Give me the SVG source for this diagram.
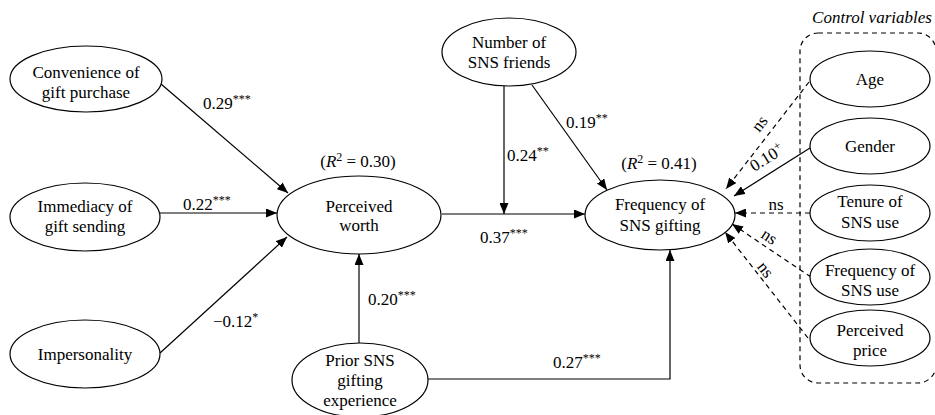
<svg xmlns="http://www.w3.org/2000/svg" width="935" height="415" viewBox="0 0 935 415" font-family="'Liberation Serif', 'DejaVu Serif', 'Times New Roman', serif">
  <style>
    text { font-family: "Liberation Serif", "DejaVu Serif", "Times New Roman", serif; font-size: 17px; fill: #000; }
    .node ellipse { fill: #fff; stroke: #000; stroke-width: 1.2; }
    .node text { text-anchor: middle; }
    .edge { fill: none; stroke: #000; stroke-width: 1.2; marker-end: url(#arrow); }
    .dash { stroke-dasharray: 5 4; }
    .sup { font-size: 12px; }
    .lbl { text-anchor: start; }
  </style>
  <defs>
    <marker id="arrow" markerUnits="userSpaceOnUse" markerWidth="11" markerHeight="9" refX="11" refY="4.5" orient="auto">
      <path d="M0,0 L11,4.5 L0,9 Z" fill="#000"/>
    </marker>
  </defs>

  <rect width="935" height="415" fill="#fff"/>

  <!-- control variable frame -->
  <rect x="800" y="33" width="136" height="350" rx="18" ry="18" fill="none" stroke="#000" stroke-width="1.2" stroke-dasharray="5 4"/>
  <text x="872" y="23" text-anchor="middle" font-style="italic">Control variables</text>

  <!-- connectors -->
  <g id="connectors">
    <line class="edge" x1="161" y1="84" x2="288" y2="193"/>
    <line class="edge" x1="160" y1="213" x2="277" y2="213"/>
    <line class="edge" x1="160" y1="353" x2="287" y2="237"/>
    <line class="edge" x1="442" y1="214" x2="585" y2="214"/>
    <line class="edge" x1="504" y1="86" x2="504" y2="214"/>
    <line class="edge" x1="532" y1="85" x2="607" y2="190"/>
    <line class="edge" x1="359" y1="343" x2="359" y2="254"/>
    <polyline class="edge" points="428,379 670,379 670,250"/>
    <line class="edge dash" x1="809" y1="82" x2="726" y2="189"/>
    <line class="edge" x1="810" y1="148" x2="734" y2="196"/>
    <line class="edge dash" x1="810" y1="213" x2="735" y2="213"/>
    <line class="edge dash" x1="811" y1="277" x2="732" y2="224"/>
    <line class="edge dash" x1="808" y1="338" x2="725" y2="232"/>

    <!-- path coefficients -->
    <text class="lbl" x="203" y="109">0.29<tspan class="sup" dy="-6">***</tspan></text>
    <text class="lbl" x="183" y="210">0.22<tspan class="sup" dy="-6">***</tspan></text>
    <text class="lbl" x="213" y="327">−0.12<tspan class="sup" dy="-6">*</tspan></text>
    <text class="lbl" x="507" y="161">0.24<tspan class="sup" dy="-6">**</tspan></text>
    <text class="lbl" x="566" y="128">0.19<tspan class="sup" dy="-6">**</tspan></text>
    <text class="lbl" x="480" y="243">0.37<tspan class="sup" dy="-6">***</tspan></text>
    <text class="lbl" x="368" y="305">0.20<tspan class="sup" dy="-6">***</tspan></text>
    <text class="lbl" x="553" y="368">0.27<tspan class="sup" dy="-6">***</tspan></text>
    <text x="760" y="129" text-anchor="middle" transform="rotate(-52 760 124)">ns</text>
    <text x="767" y="163" text-anchor="middle" transform="rotate(-32 767 158)">0.10<tspan class="sup" dy="-6">+</tspan></text>
    <text x="776" y="210" text-anchor="middle">ns</text>
    <text x="769" y="242" text-anchor="middle" transform="rotate(33 769 237)">ns</text>
    <text x="765" y="275" text-anchor="middle" transform="rotate(52 765 270)">ns</text>

    <!-- explained variance -->
    <text x="358" y="167" text-anchor="middle">(<tspan font-style="italic">R</tspan><tspan class="sup" dy="-6">2</tspan><tspan dy="6"> = 0.30)</tspan></text>
    <text x="659" y="169" text-anchor="middle">(<tspan font-style="italic">R</tspan><tspan class="sup" dy="-6">2</tspan><tspan dy="6"> = 0.41)</tspan></text>
  </g>

  <!-- constructs -->
  <g id="convenience" class="node">
    <ellipse cx="86" cy="79" rx="76" ry="33"/>
    <text x="86" y="78">Convenience of</text>
    <text x="86" y="98">gift purchase</text>
  </g>
  <g id="immediacy" class="node">
    <ellipse cx="85" cy="217" rx="75" ry="34"/>
    <text x="85" y="212">Immediacy of</text>
    <text x="85" y="232">gift sending</text>
  </g>
  <g id="impersonality" class="node">
    <ellipse cx="85" cy="354" rx="75" ry="34"/>
    <text x="85" y="360">Impersonality</text>
  </g>
  <g id="perceived-worth" class="node">
    <ellipse cx="359" cy="215" rx="82" ry="39"/>
    <text x="359" y="212">Perceived</text>
    <text x="359" y="231">worth</text>
  </g>
  <g id="sns-friends" class="node">
    <ellipse cx="509" cy="52" rx="67" ry="34"/>
    <text x="509" y="48">Number of</text>
    <text x="509" y="68">SNS friends</text>
  </g>
  <g id="gifting-frequency" class="node">
    <ellipse cx="660" cy="215" rx="75" ry="35"/>
    <text x="660" y="210">Frequency of</text>
    <text x="660" y="231">SNS gifting</text>
  </g>
  <g id="prior-experience" class="node">
    <ellipse cx="360" cy="380" rx="68" ry="37"/>
    <text x="360" y="366">Prior SNS</text>
    <text x="360" y="386">gifting</text>
    <text x="360" y="406">experience</text>
  </g>
  <g id="age" class="node">
    <ellipse cx="870" cy="79" rx="60" ry="28"/>
    <text x="870" y="85">Age</text>
  </g>
  <g id="gender" class="node">
    <ellipse cx="870" cy="146" rx="60" ry="28"/>
    <text x="870" y="152">Gender</text>
  </g>
  <g id="tenure" class="node">
    <ellipse cx="870" cy="213" rx="60" ry="28"/>
    <text x="870" y="207">Tenure of</text>
    <text x="870" y="228">SNS use</text>
  </g>
  <g id="use-frequency" class="node">
    <ellipse cx="870" cy="277" rx="60" ry="28"/>
    <text x="870" y="276">Frequency of</text>
    <text x="870" y="296">SNS use</text>
  </g>
  <g id="price" class="node">
    <ellipse cx="870" cy="338" rx="60" ry="28"/>
    <text x="870" y="336">Perceived</text>
    <text x="870" y="356">price</text>
  </g>
</svg>
